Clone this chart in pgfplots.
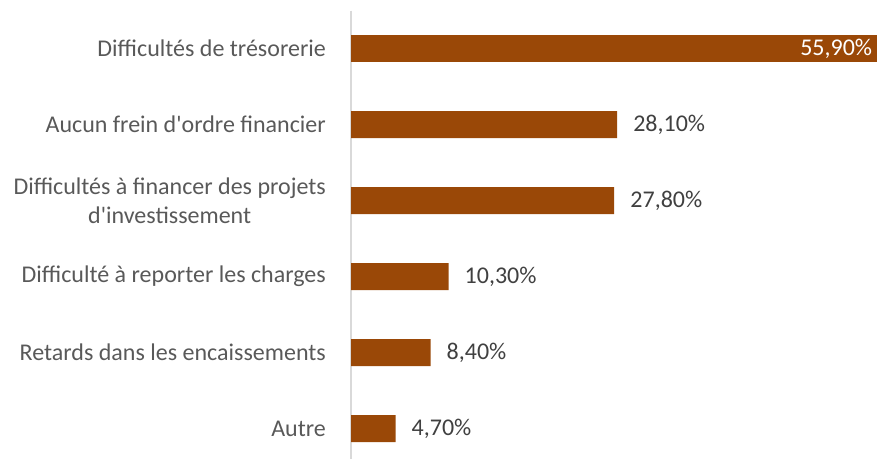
\documentclass[border=0pt]{standalone}
\usepackage{pgfplots}
\pgfplotsset{compat=1.18}
\usepackage{fontspec}
\setmainfont{Carlito}
\definecolor{barbrown}{HTML}{9A4807}
\definecolor{ticktxt}{HTML}{595959}
\definecolor{valtxt}{HTML}{404040}
\definecolor{axline}{HTML}{D9D9D9}

\begin{document}
\begin{tikzpicture}
\fontsize{24bp}{29bp}\selectfont
  \begin{axis}[
    at={(351bp,0bp)}, anchor=south west,
    scale only axis, clip=false,
    width=526bp, height=448.4bp,
    xbar, bar width=27bp, bar shift=0pt,
    xmin=0, xmax=55.55,
    ymin=-0.5, ymax=5.4,
    y dir=reverse,
    axis x line=none,
    axis y line=left,
    y axis line style={-, draw=axline, line width=1.5bp},
    ytick={0,1,2,3,4,5},
    yticklabels={Difficultés de trésorerie, Aucun frein d\textquotesingle ordre financier,
      {Difficultés à financer des projets\\d\textquotesingle investissement},
      Difficulté à reporter les charges, Retards dans les encaissements, Autre},
    major tick length=0pt,
    yticklabel style={align=center, text=ticktxt, inner sep=0pt, xshift=-25bp,
      font=\fontsize{24bp}{29bp}\selectfont},
    /pgf/number format/assume math mode=true,
    point meta=x,
    nodes near coords={\pgfmathprintnumber[fixed,fixed zerofill,precision=2,use comma]{\pgfplotspointmeta}\%},
  ]
    % first bar: label inside, white
    \addplot[fill=barbrown, draw=none,
      nodes near coords style={anchor=east, inner sep=0pt, xshift=-8bp, text=white,
        font=\fontsize{24bp}{29bp}\selectfont}]
      coordinates {(55.9,0)};
    % remaining bars: label outside
    \addplot[fill=barbrown, draw=none,
      nodes near coords style={anchor=west, inner sep=0pt, xshift=16bp, text=valtxt,
        font=\fontsize{24bp}{29bp}\selectfont}]
      coordinates {(28.1,1) (27.8,2) (10.3,3) (8.4,4) (4.7,5)};
  \end{axis}
  \pgfresetboundingbox
  \path[use as bounding box] (0,0) rectangle (877bp,459bp);
\end{tikzpicture}
\end{document}
